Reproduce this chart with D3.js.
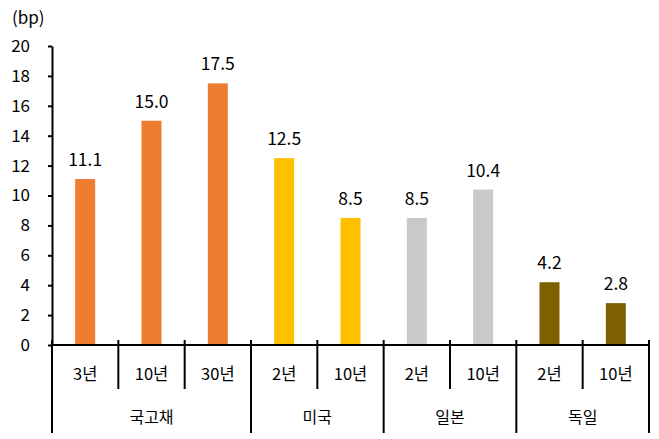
<!DOCTYPE html>
<html><head><meta charset="utf-8">
<script src="https://cdn.jsdelivr.net/npm/d3@7"></script>
<style>body{margin:0;background:#fff}svg{display:block}text{font-family:"Noto Sans CJK KR","Noto Sans",sans-serif;fill:#000}</style>
</head><body>
<svg id="c" width="659" height="439"></svg>
<script>
const groups = ["국고채","미국","일본","독일"];
const categories = ["3년","10년","30년","2년","10년","2년","10년","2년","10년"];
const groupOf = [0,0,0,1,1,2,2,3,3];
const values = [11.1,15.0,17.5,12.5,8.5,8.5,10.4,4.2,2.8];
const colors = ["#ED7D31","#FFC000","#C9C9C9","#7F6000"];
const yTicks = [0,2,4,6,8,10,12,14,16,18,20];

const svg = d3.select("#c");
const L = 52, R = 649, T = 46, B = 345;
const x = d3.scaleBand().domain(d3.range(categories.length)).range([L,R]).paddingInner(0).paddingOuter(0);
const y = d3.scaleLinear().domain([0,20]).range([B,T]);
const bw = 20;

// bars
svg.selectAll("rect.bar").data(values).join("rect")
  .attr("x",(d,i)=>x(i)+x.bandwidth()/2-bw/2)
  .attr("y",d=>y(d)).attr("width",bw).attr("height",d=>y(0)-y(d))
  .attr("fill",(d,i)=>colors[groupOf[i]]);

svg.selectAll("text.val").data(values).join("text")
  .attr("x",(d,i)=>x(i)+x.bandwidth()/2).attr("y",d=>y(d)-13)
  .attr("text-anchor","middle").attr("font-size",17.5).text(d=>d.toFixed(1));

// y axis
const ya = svg.append("g").attr("transform",`translate(${L},0)`)
  .call(d3.axisLeft(y).tickValues(yTicks).tickSize(4).tickPadding(18).tickSizeOuter(0));
ya.selectAll("text").attr("font-size",17).style("font-family",'"Noto Sans CJK KR","Noto Sans",sans-serif');
ya.select(".domain").attr("stroke","#000").attr("stroke-width",2);
ya.selectAll(".tick line").attr("stroke","#000").attr("stroke-width",2);

// x axis line
svg.append("line").attr("x1",L).attr("x2",R+1).attr("y1",B).attr("y2",B).attr("stroke","#000").attr("stroke-width",2);

// separators
const bounds = d3.range(categories.length+1).map(i=> i<categories.length ? x(i) : R);
const groupStart = [0,3,5,7,9];
bounds.forEach((bx,i)=>{
  const isGroup = groupStart.includes(i);
  svg.append("line").attr("x1",bx).attr("x2",bx).attr("y1",B-5).attr("y2",isGroup?433:389)
    .attr("stroke","#000").attr("stroke-width",2);
});

// category labels
svg.selectAll("text.cat").data(categories).join("text")
  .attr("x",(d,i)=>x(i)+x.bandwidth()/2).attr("y",380)
  .attr("text-anchor","middle").attr("font-size",16.5).text(d=>d);

// group labels
svg.selectAll("text.grp").data(groups).join("text")
  .attr("x",(d,i)=>(bounds[groupStart[i]]+bounds[groupStart[i+1]])/2).attr("y",423)
  .attr("text-anchor","middle").attr("font-size",16).text(d=>d);

svg.append("text").attr("x",12).attr("y",24).attr("font-size",17).text("(bp)");
</script>
</body></html>
